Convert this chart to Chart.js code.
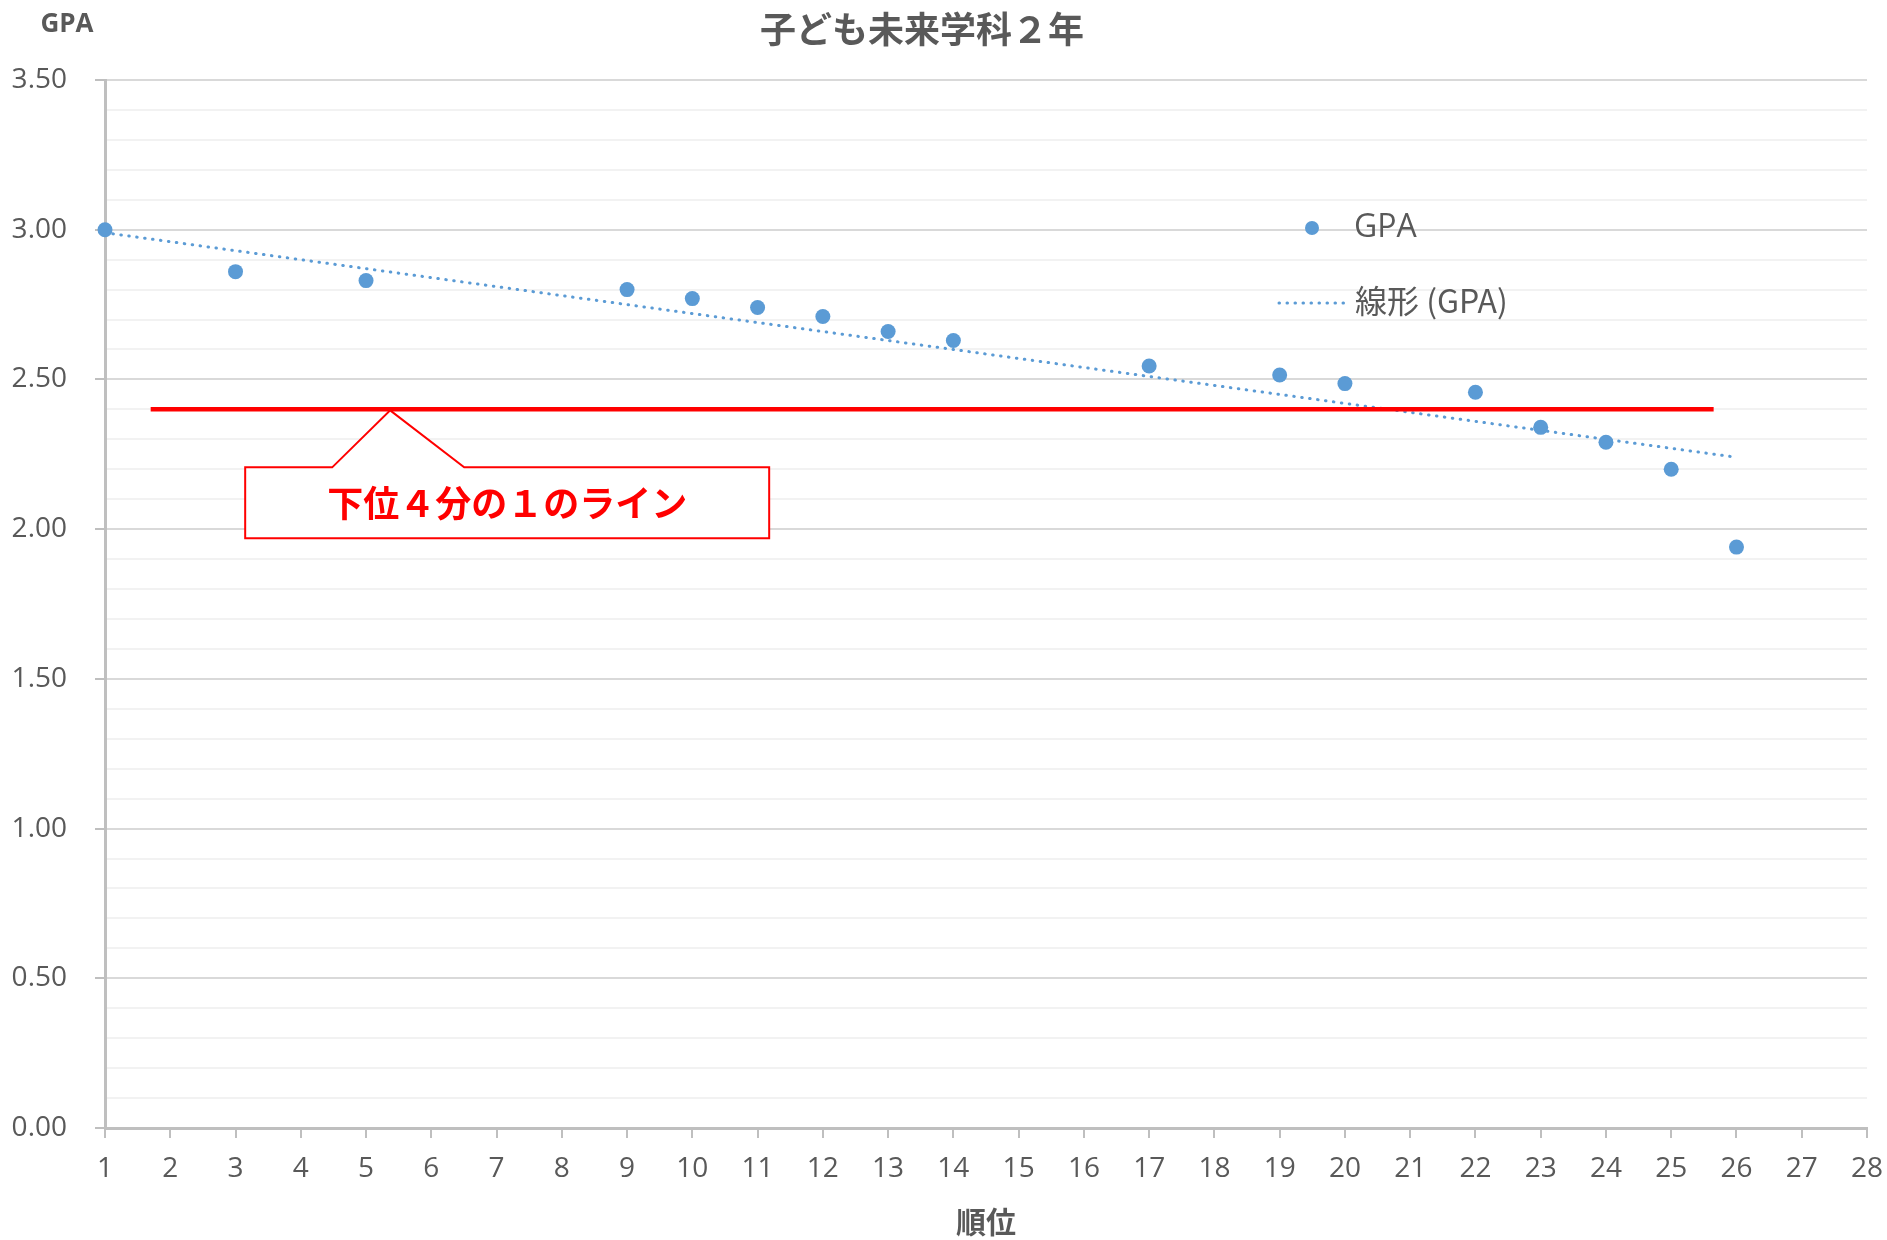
<!DOCTYPE html>
<html lang="ja">
<head>
<meta charset="utf-8">
<title>子ども未来学科２年</title>
<script src="https://cdn.jsdelivr.net/npm/chart.js@4.4.1/dist/chart.umd.min.js"></script>
<style>
  html, body { margin: 0; padding: 0; background: #fff; }
  #wrap { width: 1887px; height: 1240px; }
</style>
</head>
<body>
<div id="wrap"><canvas id="gpaChart" width="1887" height="1240"></canvas></div>
<script>
// 順位 (x) と GPA (y)
const ranks = [1, 3, 5, 9, 10, 11, 12, 13, 14, 17, 19, 20, 22, 23, 24, 25, 26];
const gpaValues = [3.00, 2.86, 2.83, 2.80, 2.77, 2.74, 2.71, 2.66, 2.63, 2.545, 2.515, 2.486, 2.457, 2.34, 2.29, 2.20, 1.94];

// 線形近似 (GPA) の両端
const trendX = [1, 26];
const trendY = [2.99, 2.24];

// 下位4分の1のライン
const quarterX = [1.7, 25.65];
const quarterY = [2.40, 2.40];

const chartTitle = '子ども未来学科２年';
const yAxisTitle = 'GPA';
const xAxisTitle = '順位';
const calloutText = '下位４分の１のライン';

const TEXT = '#595959';
const BLUE = '#5b9bd5';
const RED = '#ff0000';
const LATIN = '"Open Sans", "Noto Sans CJK JP", sans-serif';
const CJK = '"Noto Sans CJK JP", "Open Sans", sans-serif';

function isMajor(v) {
    return Math.abs(v * 2 - Math.round(v * 2)) < 1e-6;
}

// タイトル・凡例・吹き出しを描く
const extrasPlugin = {
    id: 'extras',
    afterDatasetsDraw(chart) {
        const ctx = chart.ctx;
        const xs = chart.scales.x;
        const ys = chart.scales.y;
        ctx.save();

        // title
        ctx.fillStyle = TEXT;
        ctx.textAlign = 'center';
        ctx.textBaseline = 'middle';
        ctx.font = 'bold 36px ' + CJK;
        ctx.fillText(chartTitle, 922, 29);

        // y axis title (horizontal, top left)
        ctx.font = 'bold 26px ' + LATIN;
        ctx.fillText(yAxisTitle, 67, 25);

        // legend
        const ds = chart.data.datasets;
        ctx.textAlign = 'left';
        ctx.font = '32px ' + LATIN;
        ctx.fillStyle = BLUE;
        ctx.beginPath();
        ctx.arc(1312, 228, 7, 0, Math.PI * 2);
        ctx.fill();
        ctx.fillStyle = TEXT;
        ctx.fillText(ds[0].label, 1354, 228);

        ctx.strokeStyle = BLUE;
        ctx.lineWidth = 3;
        ctx.lineCap = 'round';
        ctx.setLineDash([0.5, 7.5]);
        ctx.beginPath();
        ctx.moveTo(1279, 303);
        ctx.lineTo(1344, 303);
        ctx.stroke();
        ctx.setLineDash([]);
        ctx.font = '32px ' + CJK;
        ctx.fillText(ds[2].label, 1355, 301);

        // callout pointing at the quarter line
        const ax = xs.getPixelForValue(5.37);
        const ay = ys.getPixelForValue(quarterY[0]);
        const left = ax - 145, right = ax + 379;
        const top = ay + 58, bottom = ay + 129;
        ctx.lineCap = 'butt';
        ctx.lineJoin = 'miter';
        ctx.beginPath();
        ctx.moveTo(left, top);
        ctx.lineTo(ax - 58, top);
        ctx.lineTo(ax, ay + 1);
        ctx.lineTo(ax + 74, top);
        ctx.lineTo(right, top);
        ctx.lineTo(right, bottom);
        ctx.lineTo(left, bottom);
        ctx.closePath();
        ctx.fillStyle = '#ffffff';
        ctx.fill();
        ctx.strokeStyle = RED;
        ctx.lineWidth = 2;
        ctx.stroke();

        ctx.fillStyle = RED;
        ctx.textAlign = 'center';
        ctx.font = 'bold 36px ' + CJK;
        ctx.fillText(calloutText, (left + right) / 2, (top + bottom) / 2);

        ctx.restore();
    }
};

const ctx = document.getElementById('gpaChart').getContext('2d');
new Chart(ctx, {
    type: 'scatter',
    data: {
        datasets: [
            {
                label: 'GPA',
                data: ranks.map((r, i) => ({ x: r, y: gpaValues[i] })),
                backgroundColor: BLUE,
                borderColor: BLUE,
                pointRadius: 7.5,
                pointBorderWidth: 0,
                showLine: false,
                clip: false,
                order: 0
            },
            {
                label: '下位4分の1',
                data: quarterX.map((x, i) => ({ x: x, y: quarterY[i] })),
                showLine: true,
                borderColor: RED,
                borderWidth: 4.5,
                pointRadius: 0,
                order: 1
            },
            {
                label: '線形 (GPA)',
                data: trendX.map((x, i) => ({ x: x, y: trendY[i] })),
                showLine: true,
                borderColor: BLUE,
                borderWidth: 3,
                borderDash: [0.5, 7.5],
                borderCapStyle: 'round',
                pointRadius: 0,
                order: 2
            }
        ]
    },
    options: {
        responsive: false,
        animation: false,
        layout: { padding: { top: 80, right: 20, left: 0, bottom: 0 } },
        plugins: {
            legend: { display: false },
            title: { display: false },
            tooltip: { enabled: false }
        },
        scales: {
            x: {
                type: 'linear',
                min: 1,
                max: 28,
                afterFit: s => { s.height = 112; s.paddingLeft = 0; s.paddingRight = 0; },
                grid: {
                    drawOnChartArea: false,
                    drawTicks: true,
                    tickLength: 10,
                    color: '#bfbfbf',
                    lineWidth: 2
                },
                border: { color: '#bfbfbf', width: 3 },
                ticks: {
                    stepSize: 1,
                    autoSkip: false,
                    maxRotation: 0,
                    padding: 14,
                    color: TEXT,
                    font: { family: LATIN, size: 28 }
                },
                title: {
                    display: true,
                    text: xAxisTitle,
                    color: TEXT,
                    font: { family: CJK, size: 30, weight: 'bold' },
                    padding: { top: 0, bottom: 0 }
                }
            },
            y: {
                min: 0,
                max: 3.5,
                afterFit: s => { s.width = 105; s.paddingTop = 0; s.paddingBottom = 0; },
                grid: {
                    color: c => isMajor(c.tick.value) ? '#d9d9d9' : '#f2f2f2',
                    tickColor: c => isMajor(c.tick.value) ? '#bfbfbf' : 'rgba(0,0,0,0)',
                    lineWidth: 2,
                    tickLength: 10
                },
                border: { color: '#bfbfbf', width: 3 },
                ticks: {
                    stepSize: 0.1,
                    autoSkip: false,
                    padding: 28,
                    color: TEXT,
                    font: { family: LATIN, size: 28 },
                    callback: v => isMajor(v) ? v.toFixed(2) : ''
                }
            }
        }
    },
    plugins: [extrasPlugin]
});
</script>
</body>
</html>
